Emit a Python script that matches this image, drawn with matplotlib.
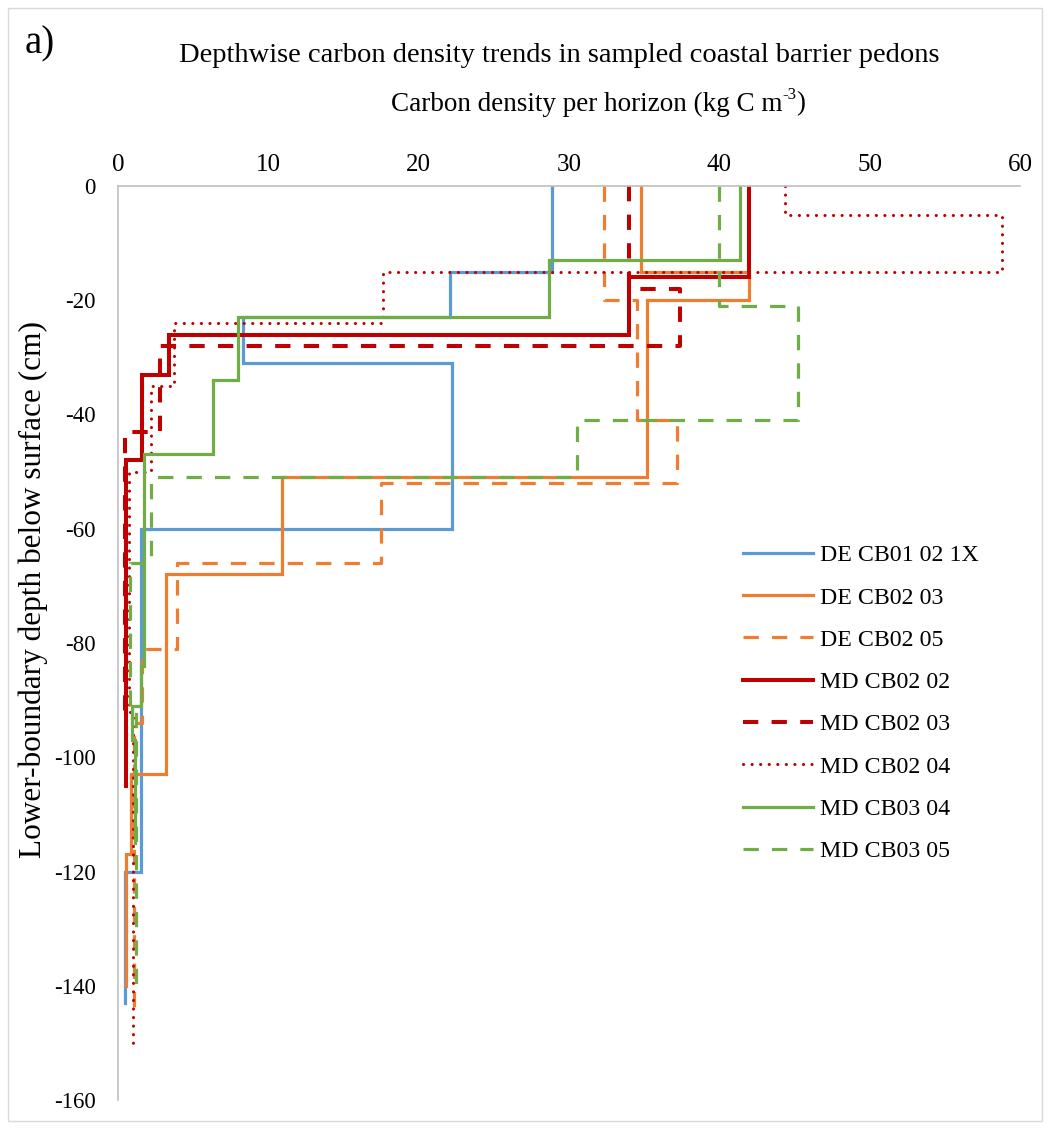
import matplotlib
matplotlib.use("Agg")
import matplotlib.pyplot as plt
from matplotlib.patches import Rectangle
import numpy as np

plt.rcParams['font.family'] = ['Liberation Serif', 'DejaVu Serif']
plt.rcParams['axes.unicode_minus'] = False

# Data: carbon density per horizon (kg C m-3) and lower-boundary depth (cm)
names = ["DE CB01 02 1X", "DE CB02 03", "DE CB02 05", "MD CB02 02",
         "MD CB02 03", "MD CB02 04", "MD CB03 04", "MD CB03 05"]

de_cb01_02_1x_density = [28.9, 22.1, 8.3, 22.2, 1.55, 0.45]
de_cb01_02_1x_depth = [15, 23, 31, 60, 120, 143]

de_cb02_03_density = [34.8, 42.0, 35.2, 10.9, 3.2, 0.85, 0.55]
de_cb02_03_depth = [15, 20, 51, 68, 103, 117, 140]

de_cb02_05_density = [32.3, 34.5, 37.2, 17.5, 3.9, 1.6, 1.05]
de_cb02_05_depth = [20, 41, 52, 66, 81, 94, 145]

md_cb02_02_density = [42.0, 34.0, 3.4, 1.6, 0.53]
md_cb02_02_depth = [16, 26, 33, 48, 105]

md_cb02_03_density = [34.0, 37.4, 2.8, 0.47]
md_cb02_03_depth = [18, 28, 43, 92]

md_cb02_04_density = [44.4, 58.8, 17.6, 3.7, 2.2, 0.75, 1.0]
md_cb02_04_depth = [5, 15, 24, 35, 50, 92, 150]

md_cb03_04_density = [41.4, 28.7, 8.0, 6.3, 1.75, 1.5, 0.9, 1.1]
md_cb03_04_depth = [13, 23, 34, 47, 84, 91, 97, 115]

md_cb03_05_density = [40.0, 45.2, 30.5, 2.2, 0.82, 1.2]
md_cb03_05_depth = [21, 41, 51, 66, 91, 140]

x_ticks = [0, 10, 20, 30, 40, 50, 60]
y_ticks = [0, -20, -40, -60, -80, -100, -120, -140, -160]

series = [
    (de_cb01_02_1x_density, de_cb01_02_1x_depth),
    (de_cb02_03_density, de_cb02_03_depth),
    (de_cb02_05_density, de_cb02_05_depth),
    (md_cb02_02_density, md_cb02_02_depth),
    (md_cb02_03_density, md_cb02_03_depth),
    (md_cb02_04_density, md_cb02_04_depth),
    (md_cb03_04_density, md_cb03_04_depth),
    (md_cb03_05_density, md_cb03_05_depth),
]

blue = "#5B9BD5"
orange = "#ED7D31"
red = "#C00000"
green = "#70AD47"
styles = [
    dict(color=blue, lw=2.3),
    dict(color=orange, lw=2.3),
    dict(color=orange, lw=2.3, dashes=(4.8, 4.1)),
    dict(color=red, lw=2.9),
    dict(color=red, lw=2.9, dashes=(3.8, 3.3)),
    dict(color=red, lw=2.2, dashes=(0.05, 2.75), dash_capstyle='round'),
    dict(color=green, lw=2.3),
    dict(color=green, lw=2.3, dashes=(4.8, 4.1)),
]


def step_profile(dens, depth):
    xs, ys = [], []
    top = 0
    for d, b in zip(dens, depth):
        xs += [d, d]
        ys += [-top, -b]
        top = b
    return xs, ys


W, H = 1050, 1129
fig = plt.figure(figsize=(W / 100, H / 100), dpi=100)
fig.patches.append(Rectangle((8 / W, 8 / H), (1042 - 8) / W, (1121 - 8) / H,
                             transform=fig.transFigure, fill=False,
                             edgecolor="#D9D9D9", lw=1.0))
ax = fig.add_axes([118 / W, 1 - 1100 / H, (1020 - 118) / W, (1100 - 186) / H])

for name, (dens, depth), st in zip(names, series, styles):
    xs, ys = step_profile(dens, depth)
    ax.plot(xs, ys, label=name, solid_joinstyle='miter', **st)

ax.set_xlim(0, 60)
ax.set_ylim(-160, 0)
ax.set_xticks(x_ticks)
ax.set_yticks(y_ticks)
ax.xaxis.tick_top()
ax.tick_params(axis='both', length=0)
ax.tick_params(axis='x', pad=7, labelsize=18)
ax.tick_params(axis='y', pad=16, labelsize=16.5)
for s in ['right', 'bottom']:
    ax.spines[s].set_visible(False)
for s in ['top', 'left']:
    ax.spines[s].set_color("#BFBFBF")
    ax.spines[s].set_linewidth(1.2)

fig.text(559 / W, 1 - 56 / H,
         "Depthwise carbon density trends in sampled coastal barrier pedons",
         ha='center', va='center', fontsize=20.5)

# x-axis title with a plain-hyphen superscript, built from three pieces
fig.canvas.draw()
renderer = fig.canvas.get_renderer()
xl_fs = 19.5
main_txt = "Carbon density per horizon (kg C m"
sup_txt = "-3"
end_txt = ")"
probe = fig.text(0, 0, main_txt, fontsize=xl_fs)
w_main = probe.get_window_extent(renderer).width
probe.remove()
probe = fig.text(0, 0, sup_txt, fontsize=xl_fs * 0.62)
w_sup = probe.get_window_extent(renderer).width
probe.remove()
probe = fig.text(0, 0, end_txt, fontsize=xl_fs)
w_end = probe.get_window_extent(renderer).width
probe.remove()
total = w_main + w_sup + w_end
x_start = 598 - total / 2
y_base = 1 - 104 / H
fig.text(x_start / W, y_base, main_txt, ha='left', va='center', fontsize=xl_fs)
fig.text((x_start + w_main) / W, y_base + 9 / H, sup_txt, ha='left',
         va='center', fontsize=xl_fs * 0.62)
fig.text((x_start + w_main + w_sup) / W, y_base, end_txt, ha='left',
         va='center', fontsize=xl_fs)

fig.text(40 / W, 1 - 44 / H, "a)", ha='center', va='center', fontsize=28)
fig.text(33 / W, 1 - 590 / H, "Lower-boundary depth below surface (cm)",
         ha='center', va='center', rotation=90, fontsize=22.5)

leg = ax.legend(loc='upper left', bbox_to_anchor=(733 / W, 1 - 535 / H),
                bbox_transform=fig.transFigure, frameon=False, fontsize=17.2,
                handlelength=2.95, labelspacing=0.86, handletextpad=0.3,
                borderaxespad=0)

fig.savefig("out.png", dpi=100, facecolor="white")
